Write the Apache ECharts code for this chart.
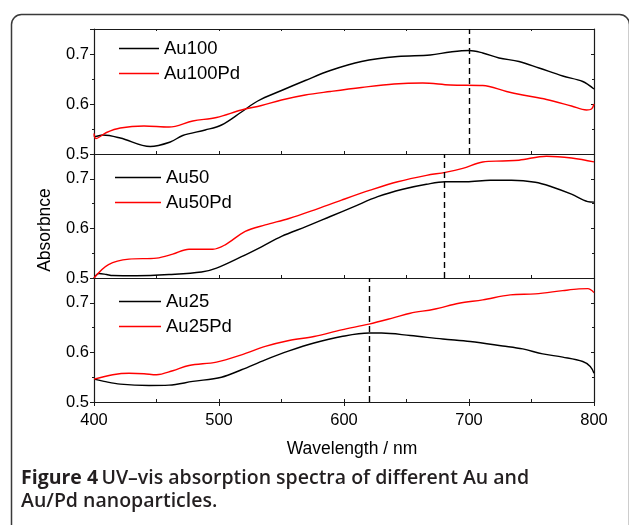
<!DOCTYPE html>
<html>
<head>
<meta charset="utf-8">
<script src="https://cdn.jsdelivr.net/npm/echarts@6/dist/echarts.min.js"></script>
<style>
html,body{margin:0;padding:0;background:#fff;}
#c{width:629px;height:525px;}
</style>
</head>
<body>
<div id="c"></div>
<script>
// ---- data ----
const au100Wl = [400, 401, 407, 421, 445, 461, 471, 489, 502, 518, 531, 550, 569, 589, 614, 643, 669, 685, 700, 711, 724, 740, 756, 775, 791, 800];
const au100Abs = [0.537, 0.535, 0.538, 0.532, 0.515, 0.524, 0.537, 0.548, 0.558, 0.584, 0.606, 0.627, 0.647, 0.667, 0.685, 0.695, 0.698, 0.704, 0.707, 0.702, 0.692, 0.685, 0.672, 0.656, 0.645, 0.630];
const au100PdWl = [400, 401.5, 410, 421, 440, 460, 479, 498, 518, 534, 550, 569, 589, 614, 640, 663, 685, 711, 730, 743, 762, 782, 794, 798, 800];
const au100PdAbs = [0.541, 0.531, 0.543, 0.552, 0.556, 0.554, 0.566, 0.573, 0.588, 0.597, 0.608, 0.618, 0.625, 0.633, 0.640, 0.642, 0.638, 0.637, 0.625, 0.618, 0.609, 0.596, 0.588, 0.590, 0.600];
const au50Wl = [400, 404, 410, 415, 434, 460, 486, 498, 518, 534, 550, 570, 589, 608, 627, 647, 666, 681, 698, 717, 734, 753, 766, 782, 795, 800];
const au50Abs = [0.500, 0.509, 0.507, 0.505, 0.5046, 0.507, 0.512, 0.520, 0.543, 0.563, 0.584, 0.604, 0.624, 0.644, 0.664, 0.679, 0.689, 0.694, 0.694, 0.697, 0.697, 0.693, 0.684, 0.669, 0.654, 0.653];
const au50PdWl = [400, 411.6, 428, 450, 463, 476, 495, 505, 521, 537, 556, 576, 598, 621, 643, 666, 681, 695, 711, 727, 740, 762, 782, 800];
const au50PdAbs = [0.500, 0.527, 0.538, 0.540, 0.548, 0.558, 0.558, 0.567, 0.594, 0.607, 0.620, 0.637, 0.657, 0.677, 0.694, 0.707, 0.713, 0.721, 0.734, 0.736, 0.7375, 0.7456, 0.742, 0.734];
const au25Wl = [400, 408, 421, 444, 460, 479, 502, 518, 537, 556, 576, 598, 620, 630, 653, 679, 701, 727, 743, 759, 775, 791, 797, 800];
const au25Abs = [0.546, 0.5415, 0.536, 0.5334, 0.534, 0.5415, 0.550, 0.565, 0.585, 0.603, 0.619, 0.632, 0.639, 0.639, 0.634, 0.627, 0.622, 0.613, 0.607, 0.597, 0.5905, 0.5817, 0.5716, 0.558];
const au25PdWl = [400, 415, 428, 440, 450, 463, 476, 498, 518, 537, 556, 576, 598, 620, 640, 653, 672, 692, 711, 733, 753, 775, 788, 795, 800];
const au25PdAbs = [0.546, 0.555, 0.558, 0.557, 0.555, 0.563, 0.5737, 0.5805, 0.595, 0.612, 0.624, 0.632, 0.6455, 0.657, 0.670, 0.679, 0.687, 0.699, 0.706, 0.716, 0.718, 0.7245, 0.728, 0.7285, 0.7205];
const markerWl = [700, 680, 620];
const seriesNames = [['Au100', 'Au100Pd'], ['Au50', 'Au50Pd'], ['Au25', 'Au25Pd']];
const xTicks = [400, 500, 600, 700, 800];
const yTicks = [0.5, 0.6, 0.7];

const zip = (a, b) => a.map((x, i) => [x, b[i]]);
const panelData = [
  [zip(au100Wl, au100Abs), zip(au100PdWl, au100PdAbs)],
  [zip(au50Wl, au50Abs), zip(au50PdWl, au50PdAbs)],
  [zip(au25Wl, au25Abs), zip(au25PdWl, au25PdAbs)]
];

const FONT = '"Liberation Sans", Arial, sans-serif';
const AX = '#1a1a1a';
const grids = [
  {left: 94, top: 29, width: 500, height: 125},
  {left: 94, top: 154, width: 500, height: 124},
  {left: 94, top: 278, width: 500, height: 124}
];

const xAxes = [];
const yAxes = [];
const series = [];
const legends = [];
const xBase = {type: 'value', min: xTicks[0], max: xTicks[xTicks.length - 1], splitLine: {show: false},
  axisLine: {show: true, lineStyle: {color: AX, width: 1.2}}};

for (let p = 0; p < 3; p++) {
  xAxes.push(Object.assign({}, xBase, {gridIndex: p, position: 'bottom', interval: 50,
    axisTick: {show: true, inside: true, length: 3, lineStyle: {color: AX}},
    axisLabel: {show: false}}));
  let mainX = xAxes.length - 1;
  if (p === 0) {
    xAxes.push(Object.assign({}, xBase, {gridIndex: p, position: 'top', interval: 50,
      axisTick: {show: true, inside: true, length: 2, lineStyle: {color: AX}},
      axisLabel: {show: false}}));
  }
  if (p === 2) {
    xAxes.push(Object.assign({}, xBase, {gridIndex: p, position: 'bottom', interval: 100,
      axisTick: {show: true, inside: false, length: 4, lineStyle: {color: AX}},
      axisLabel: {show: true, margin: 10, color: '#000', fontFamily: FONT, fontSize: 16.5},
      name: 'Wavelength / nm', nameLocation: 'middle', nameGap: 38,
      nameTextStyle: {color: '#000', fontFamily: FONT, fontSize: 17.5, padding: [0, 0, 0, 16]}}));
    mainX = xAxes.length - 1;
  }
  const yCommon = {type: 'value', gridIndex: p, min: 0.5, max: 0.75, interval: 0.1, splitLine: {show: false},
    axisLine: {show: true, lineStyle: {color: AX, width: 1.2}}};
  yAxes.push(Object.assign({}, yCommon, {position: 'left',
    axisTick: {show: true, inside: false, length: 4, lineStyle: {color: AX}},
    minorTick: {show: true, splitNumber: 2, length: 2, lineStyle: {color: AX}},
    axisLabel: {show: true, margin: 5, color: '#000', fontFamily: FONT, fontSize: 16.5,
      formatter: v => (yTicks.some(t => Math.abs(t - v) < 1e-6) ? v.toFixed(1) : '')}}));
  const yIdx = yAxes.length - 1;
  yAxes.push(Object.assign({}, yCommon, {position: 'right',
    axisTick: {show: true, inside: true, length: 3, lineStyle: {color: AX}},
    minorTick: {show: true, splitNumber: 2, length: 2, lineStyle: {color: AX}},
    axisLabel: {show: false}}));

  const colors = ['#000000', '#ff0000'];
  for (let s = 0; s < 2; s++) {
    const ser = {
      type: 'line', name: seriesNames[p][s], xAxisIndex: mainX, yAxisIndex: yIdx,
      data: panelData[p][s], showSymbol: false, symbol: 'none', smooth: 0.35,
      lineStyle: {color: colors[s], width: 1.4}, itemStyle: {color: colors[s]},
      z: 3
    };
    if (s === 0) {
      ser.markLine = {silent: true, symbol: 'none', label: {show: false},
        lineStyle: {color: '#000', type: [6, 4], width: 1.4},
        data: [{xAxis: markerWl[p]}]};
    }
    series.push(ser);
  }
  const legTops = [34, 163, 287];
  const legLeft = [114, 110, 114];
  const legW = [40, 46, 42];
  legends.push({
    data: seriesNames[p], orient: 'vertical', left: legLeft[p], top: legTops[p],
    itemWidth: legW[p], itemHeight: 14, itemGap: 6, itemGap: 6, icon: 'path://M0,0L40,0L40,1.4L0,1.4Z',
    textStyle: {color: '#000', fontFamily: FONT, fontSize: 18.5, lineHeight: 18},
    selectedMode: false
  });
}

const chart = echarts.init(document.getElementById('c'), null, {renderer: 'canvas'});
chart.setOption({
  animation: false,
  backgroundColor: '#ffffff',
  grid: grids,
  xAxis: xAxes,
  yAxis: yAxes,
  legend: legends,
  series: series,
  graphic: [
    {type: 'rect', left: 9, top: 12, shape: {x: 0, y: 0, width: 618, height: 540, r: 10},
      style: {fill: 'none', stroke: '#3a3a3a', lineWidth: 1.5}, z: -1},
    {type: 'text', x: 45, y: 230, rotation: Math.PI / 2,
      style: {text: 'Absorbnce', fill: '#000', font: '17.5px ' + FONT, align: 'center', verticalAlign: 'middle'}},
    {type: 'text', left: 21, top: 468,
      style: {
        text: '{b|Figure 4} {n|UV–vis absorption spectra of different Au and}\n{n|Au/Pd nanoparticles.}',
        rich: {
          b: {fontFamily: '"Open Sans", sans-serif', fontWeight: 'bold', fontSize: 19.5, fill: '#231f20', lineHeight: 23},
          n: {fontFamily: '"Open Sans", sans-serif', fontWeight: 600, fontSize: 19.5, fill: '#231f20', lineHeight: 23}
        }
      }}
  ]
});
</script>
</body>
</html>
